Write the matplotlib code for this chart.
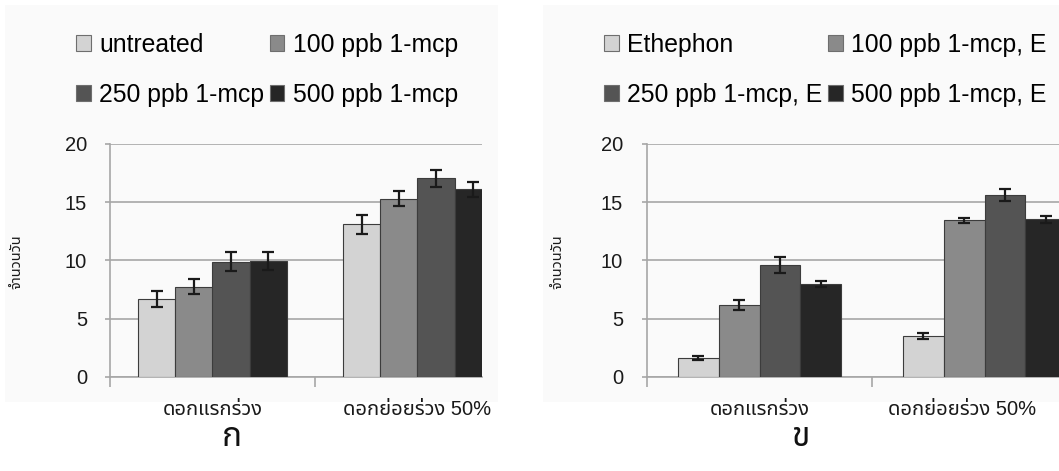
"""Two-panel grouped bar chart (Thai labels) with error bars."""

import numpy as np
import matplotlib
matplotlib.use("Agg")
import matplotlib.pyplot as plt
from matplotlib import font_manager, ft2font
from matplotlib.patches import Patch, Rectangle
from matplotlib.transforms import ScaledTranslation

# ---- data -------------------------------------------------------------
categories = ["ดอกแรกร่วง", "ดอกย่อยร่วง 50%"]
ylabel = "จำนวนวัน"

labels_a = ["untreated", "100 ppb 1-mcp", "250 ppb 1-mcp", "500 ppb 1-mcp"]
values_a = [[6.65, 13.1], [7.75, 15.3], [9.9, 17.05], [9.95, 16.1]]
errors_a = [[0.7, 0.8], [0.65, 0.65], [0.8, 0.72], [0.8, 0.62]]

labels_b = ["Ethephon", "100 ppb 1-mcp, E", "250 ppb 1-mcp, E", "500 ppb 1-mcp, E"]
values_b = [[1.6, 3.5], [6.15, 13.45], [9.6, 15.6], [7.95, 13.55]]
errors_b = [[0.17, 0.23], [0.4, 0.2], [0.7, 0.52], [0.27, 0.3]]

panel_tags = ["ก", "ข"]
colors = ["#d3d3d3", "#8a8a8a", "#545454", "#262626"]


def find_thai_font():
    found = []
    for f in font_manager.fontManager.ttflist:
        try:
            cmap = ft2font.FT2Font(f.fname).get_charmap()
        except Exception:
            continue
        if 0x0E01 in cmap:
            found.append(f.name)
    for pref in ("Noto Sans Thai", "Noto Sans Thai UI", "Loma", "Garuda",
                 "Tlwg Typist", "FreeSans", "DejaVu Sans"):
        if pref in found:
            return pref
    return found[0] if found else "DejaVu Sans"


THAI = find_thai_font()
FAMILY = ["Liberation Sans", THAI, "DejaVu Sans"]
plt.rcParams["font.family"] = FAMILY

W, H = 1059, 471
fig = plt.figure(figsize=(W / 100, H / 100), dpi=100)
fig.patch.set_facecolor("white")


def px(x0, y0, x1, y1):
    # pixel box -> figure fraction rect
    return [x0 / W, 1 - y1 / H, (x1 - x0) / W, (y1 - y0) / H]


# faint panel backgrounds, kept behind the axes
for bx in [(5, 5, 498, 402), (543, 5, 1059, 402)]:
    fig.patches.append(Rectangle((bx[0] / W, 1 - bx[3] / H),
                                 (bx[2] - bx[0]) / W, (bx[3] - bx[1]) / H,
                                 transform=fig.transFigure,
                                 facecolor="#fafafa", edgecolor="none",
                                 zorder=-5))


def draw_panel(rect, xright, labels, values, errors, tick_pad, leg_pos,
               ylab_x, tag_x, tag, shift_last=0):
    ax = fig.add_axes(rect)
    ax.set_zorder(2)
    ax.set_facecolor("none")
    x = np.arange(len(categories))
    bw = 0.182
    n = len(labels)
    for i in range(n):
        xs = x + (i - (n - 1) / 2) * bw
        ax.bar(xs, values[i], width=bw, color=colors[i],
               edgecolor="#3c3c3c", linewidth=0.8, zorder=3)
        ax.errorbar(xs, values[i], yerr=errors[i], fmt="none",
                    ecolor="#1a1a1a", elinewidth=1.6, capsize=4.5,
                    capthick=1.6, zorder=4)
    ax.set_yticks([0, 5, 10, 15, 20])
    ax.yaxis.grid(True, color="#a6a6a6", linewidth=1.2, zorder=0)
    ax.set_axisbelow(True)
    for s in ("top", "right"):
        ax.spines[s].set_visible(False)
    for s in ("left", "bottom"):
        ax.spines[s].set_color("#a6a6a6")
        ax.spines[s].set_linewidth(1.2)
    ax.tick_params(axis="y", length=3.6, width=1.2, color="#a6a6a6",
                   pad=tick_pad, labelsize=14.5, labelcolor="#1a1a1a")
    ax.set_xticks([-0.5, 0.5, 1.5], minor=False)
    ax.set_xticklabels([])
    ax.tick_params(axis="x", which="major", length=7, width=1.2,
                   color="#a6a6a6", direction="out")
    ax.set_xticks(x, minor=True)
    ax.set_xticklabels(categories, minor=True, fontsize=14.5, color="#1a1a1a")
    ax.tick_params(axis="x", which="minor", length=0, pad=17)
    # limits last: set_xticks would otherwise widen them
    ax.set_xlim(-0.5, xright)
    ax.set_ylim(0, 20)
    if shift_last:
        lab = ax.get_xticklabels(minor=True)[-1]
        lab.set_transform(lab.get_transform() +
                          ScaledTranslation(shift_last / 100, 0,
                                            fig.dpi_scale_trans))
    fig.text(ylab_x / W, 1 - 262 / H, ylabel, rotation=90, fontsize=10.5,
             ha="center", va="center", color="#1a1a1a")

    handles = [Patch(facecolor=c, edgecolor="#6e6e6e", linewidth=0.8)
               for c in colors]
    order = [0, 2, 1, 3]
    fig.legend([handles[k] for k in order], [labels[k] for k in order],
               ncol=2, loc="upper left",
               bbox_to_anchor=(leg_pos[0] / W, 1 - leg_pos[1] / H),
               frameon=False, fontsize=17.8, handlelength=0.6,
               handleheight=0.6, handletextpad=0.35, columnspacing=0.2,
               labelspacing=1.05, borderpad=0, borderaxespad=0)

    fig.text(tag_x / W, 1 - 438 / H, tag, fontsize=24, fontweight="bold",
             ha="center", va="center", color="#111111")
    return ax


# left panel: category width 205 px, clipped at x=482
draw_panel(px(110, 144, 482, 376.7), -0.5 + 372 / 205, labels_a, values_a,
           errors_a, 13, (76, 33), 16, 232, panel_tags[0])
# right panel: category width 225 px, clipped at figure edge
draw_panel(px(647, 144, 1059, 376.7), -0.5 + 412 / 225, labels_b, values_b,
           errors_b, 13.5, (604, 33), 557, 800, panel_tags[1], shift_last=-22)

fig.savefig("out.png", dpi=100, facecolor="white")
